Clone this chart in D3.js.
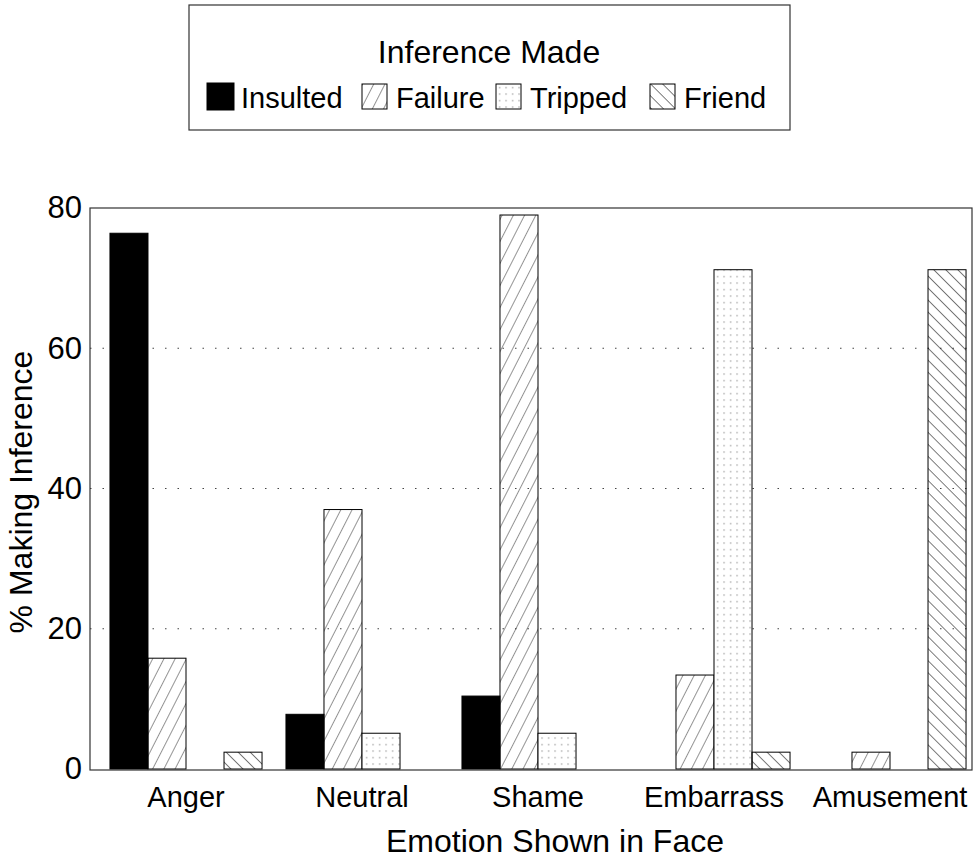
<!DOCTYPE html>
<svg width="974" height="862"></svg>
<script src="https://d3js.org/d3.v7.min.js"></script>
<style>
  body { margin: 0; background: #fff; }
  svg { font-family: "Liberation Sans", Arial, sans-serif; }
  .grid line { stroke: #444; stroke-width: 1.2px; stroke-dasharray: 1.5,11; }
  .bar { stroke: #000; stroke-width: 1px; }
</style>
<script>
// values (percent making each inference)
var categories = ["Anger", "Neutral", "Shame", "Embarrass", "Amusement"];
var seriesNames = ["Insulted", "Failure", "Tripped", "Friend"];
var insulted = [76.4, 7.8, 10.4, 0, 0];
var failure  = [15.8, 37, 79, 13.4, 2.4];
var tripped  = [0, 5.1, 5.1, 71.2, 0];
var friend   = [2.4, 0, 0, 2.4, 71.2];
var yTicks = [0, 20, 40, 60, 80];

var seriesValues = [insulted, failure, tripped, friend];
var fills = ["#000", "url(#hatch-failure)", "url(#dots-tripped)", "url(#hatch-friend)"];

var svg = d3.select("svg"),
    margin = {top: 208, right: 2, bottom: 92, left: 90},
    width = +svg.attr("width") - margin.left - margin.right,
    height = +svg.attr("height") - margin.top - margin.bottom;

// fill patterns
var defs = svg.append("defs");
defs.append("pattern")
    .attr("id", "hatch-failure")
    .attr("patternUnits", "userSpaceOnUse")
    .attr("width", 10).attr("height", 10)
    .attr("patternTransform", "rotate(27)")
  .append("line")
    .attr("x1", 0).attr("y1", 0).attr("x2", 0).attr("y2", 10)
    .attr("stroke", "#111").attr("stroke-width", 0.9);
defs.append("pattern")
    .attr("id", "hatch-friend")
    .attr("patternUnits", "userSpaceOnUse")
    .attr("width", 8.5).attr("height", 10)
    .attr("patternTransform", "rotate(-45)")
  .append("line")
    .attr("x1", 0).attr("y1", 0).attr("x2", 0).attr("y2", 10)
    .attr("stroke", "#111").attr("stroke-width", 1.1);
var dots = defs.append("pattern")
    .attr("id", "dots-tripped")
    .attr("patternUnits", "userSpaceOnUse")
    .attr("width", 6.5).attr("height", 6.5);
dots.append("rect").attr("width", 6.5).attr("height", 6.5).attr("fill", "#fff");
dots.append("rect").attr("x", 3).attr("y", 3).attr("width", 1.2).attr("height", 1.2).attr("fill", "#888");

var g = svg.append("g").attr("transform", "translate(" + margin.left + "," + margin.top + ")");

var x0 = d3.scaleBand()
    .domain(categories)
    .range([8, width + 6])
    .paddingInner(0.136)
    .paddingOuter(0.068);

var x1 = d3.scaleBand()
    .domain(seriesNames)
    .range([0, x0.bandwidth()]);

var y = d3.scaleLinear()
    .domain([0, 80])
    .range([height - 1, 0]);

// dotted gridlines
g.append("g").attr("class", "grid")
  .selectAll("line")
  .data(yTicks.filter(function(t) { return t > 0 && t < 80; }))
  .enter().append("line")
    .attr("x1", 0).attr("x2", width)
    .attr("y1", function(d) { return y(d); })
    .attr("y2", function(d) { return y(d); });

// bars
var rows = [];
categories.forEach(function(c, i) {
  seriesNames.forEach(function(s, j) {
    rows.push({cat: c, series: s, value: seriesValues[j][i], fill: fills[j]});
  });
});

g.append("g").selectAll("rect")
  .data(rows.filter(function(d) { return d.value > 0; }))
  .enter().append("rect")
    .attr("class", "bar")
    .attr("x", function(d) { return x0(d.cat) + x1(d.series); })
    .attr("width", x1.bandwidth())
    .attr("y", function(d) { return y(d.value); })
    .attr("height", function(d) { return y(0) - y(d.value); })
    .attr("fill", function(d) { return d.fill; });

// frame
g.append("rect")
    .attr("x", 0).attr("y", 0)
    .attr("width", width).attr("height", height)
    .attr("fill", "none")
    .attr("stroke", "#333")
    .attr("stroke-width", 1.2);

// axes
var yAxis = g.append("g")
    .call(d3.axisLeft(y).tickValues(yTicks).tickSize(0).tickPadding(8));
yAxis.select(".domain").remove();
yAxis.selectAll("text")
    .attr("fill", "#000")
    .style("font-family", "'Liberation Sans', Arial, sans-serif")
    .style("font-size", "31px");

var xAxis = g.append("g")
    .attr("transform", "translate(0," + height + ")")
    .call(d3.axisBottom(x0).tickSize(0).tickPadding(16));
xAxis.select(".domain").remove();
xAxis.selectAll("text")
    .attr("fill", "#000")
    .style("font-family", "'Liberation Sans', Arial, sans-serif")
    .style("font-size", "29px");

g.append("text")
    .attr("x", 465)
    .attr("y", height + 82)
    .attr("text-anchor", "middle")
    .style("font-size", "32px")
    .text("Emotion Shown in Face");

g.append("text")
    .attr("transform", "translate(-58," + (height / 2 + 3) + ") rotate(-90)")
    .attr("text-anchor", "middle")
    .style("font-size", "32px")
    .text("% Making Inference");

// legend
var legend = svg.append("g").attr("transform", "translate(189,5)");
legend.append("rect")
    .attr("width", 601).attr("height", 125)
    .attr("fill", "#fff")
    .attr("stroke", "#333")
    .attr("stroke-width", 1.2);
legend.append("text")
    .attr("x", 300).attr("y", 58)
    .attr("text-anchor", "middle")
    .style("font-size", "32px")
    .text("Inference Made");

var legendX = [18, 173, 307, 461];
var items = legend.selectAll(".item")
  .data(seriesNames)
  .enter().append("g")
    .attr("class", "item")
    .attr("transform", function(d, i) { return "translate(" + legendX[i] + ",79)"; });
items.append("rect")
    .attr("width", function(d, i) { return i === 0 ? 27 : 25; })
    .attr("height", function(d, i) { return i === 0 ? 27 : 25; })
    .attr("y", function(d, i) { return i === 0 ? -1 : 0; })
    .attr("fill", function(d, i) { return fills[i]; })
    .attr("stroke", "#000");
items.append("text")
    .attr("x", 34).attr("y", 24)
    .style("font-size", "29px")
    .text(function(d) { return d; });
</script>
